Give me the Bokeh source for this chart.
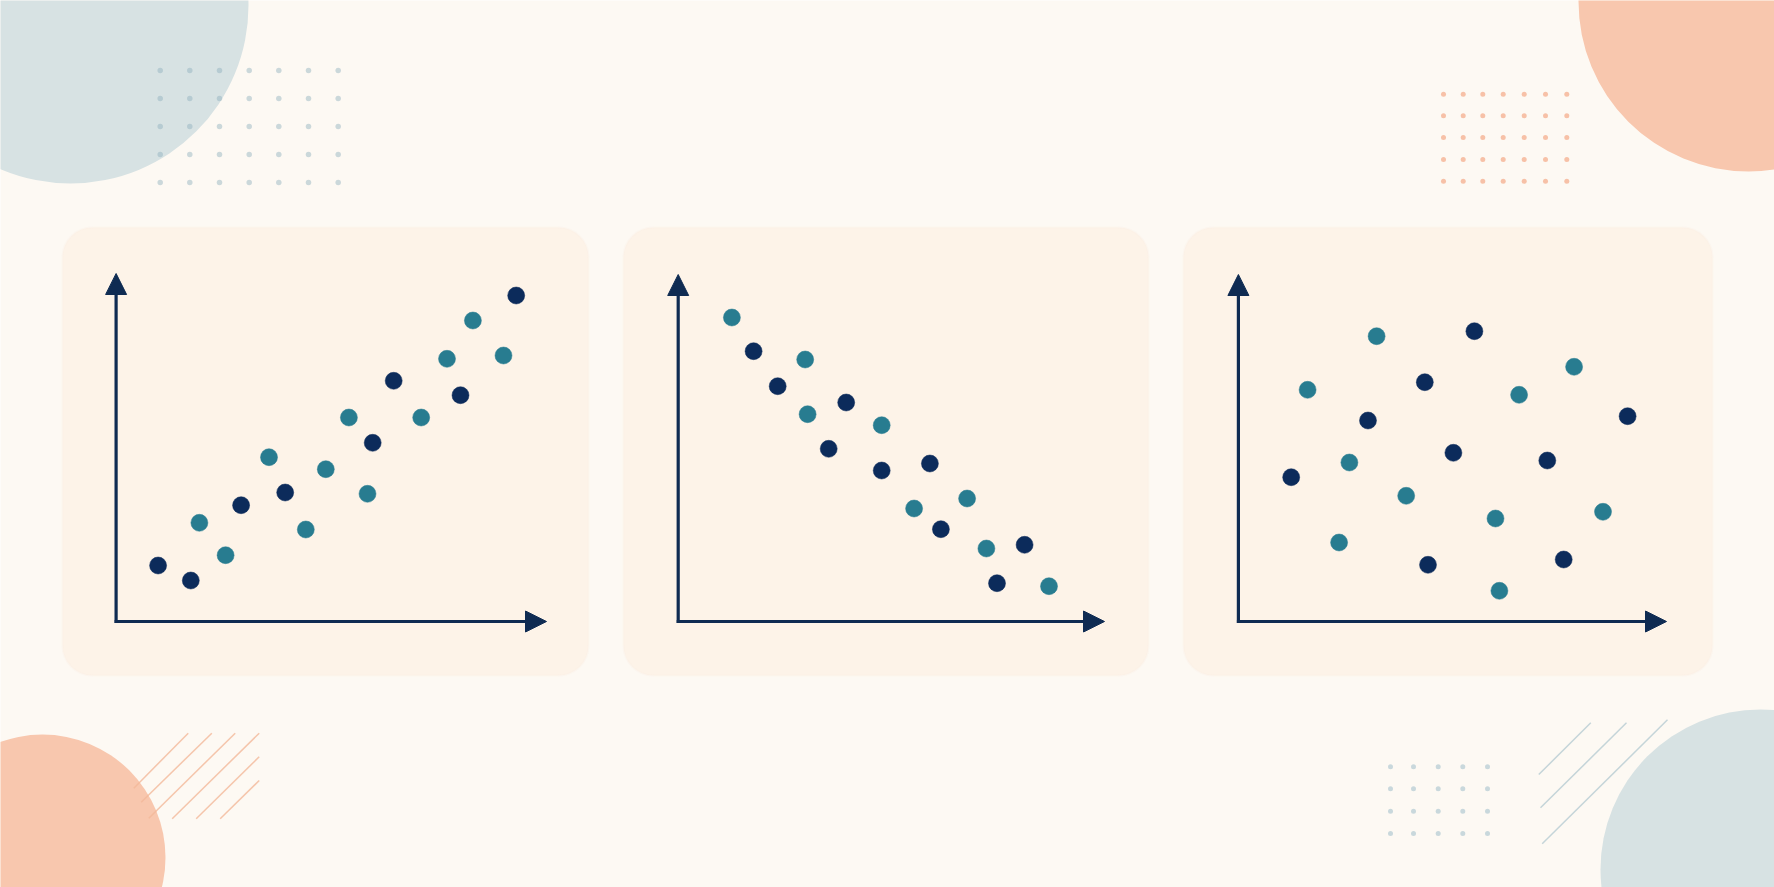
from bokeh.plotting import figure
from bokeh.models import Range1d, BoxAnnotation, Arrow, NormalHead
from bokeh.embed import file_html
from bokeh.resources import INLINE

W, H = 1774, 887

# ---------------- data (canvas units, y measured downward) ----------------
# Panel 1: positive correlation
p1_dark_x = [157.6, 190.3, 240.6, 284.7, 372.2, 393.2, 460.0, 515.7]
p1_dark_y = [565.0, 580.0, 504.7, 492.0, 442.3, 380.3, 394.7, 295.0]
p1_teal_x = [198.9, 225.1, 268.5, 305.3, 325.3, 348.4, 367.0, 420.7, 446.5, 472.4, 503.0]
p1_teal_y = [522.3, 554.7, 456.7, 529.0, 468.7, 417.0, 493.3, 417.0, 358.3, 320.0, 355.0]

# Panel 2: negative correlation
p2_dark_x = [753.1, 777.2, 845.7, 828.2, 881.2, 929.4, 940.4, 1024.1, 996.5]
p2_dark_y = [350.7, 385.7, 402.0, 448.3, 470.0, 463.0, 528.7, 544.3, 582.7]
p2_teal_x = [731.4, 804.7, 807.1, 881.2, 966.6, 913.6, 985.9, 1048.5]
p2_teal_y = [317.0, 359.0, 413.7, 424.7, 498.0, 508.0, 548.0, 585.7]

# Panel 3: no correlation
p3_dark_x = [1473.9, 1424.3, 1627.1, 1367.5, 1452.9, 1546.8, 1290.7, 1427.5, 1563.2]
p3_dark_y = [330.7, 381.7, 415.7, 420.0, 452.3, 460.0, 476.7, 564.3, 559.0]
p3_teal_x = [1376.1, 1573.6, 1307.1, 1518.6, 1348.9, 1405.7, 1495.0, 1602.5, 1338.6, 1498.9]
p3_teal_y = [335.7, 366.3, 389.3, 394.3, 462.0, 495.3, 518.0, 511.3, 542.0, 590.3]

# ---------------- layout / style ----------------
BG = "#fdf9f3"
PANEL = "#fdf3e8"
NAVY = "#0f2b52"
DARK = "#0c2b5b"
TEAL = "#287c90"
BLUEGRAY = "#d7e2e3"
PEACH = "#f8c7ae"

panels = [
    dict(l=62, r=588, t=227, b=675, ax=115.6, ay=621, ytip=273, xtip=546),
    dict(l=623, r=1148, t=227, b=675, ax=677.7, ay=621, ytip=274, xtip=1104),
    dict(l=1183, r=1712, t=227, b=675, ax=1237.9, ay=621, ytip=274, xtip=1666),
]

p = figure(width=W, height=H, x_range=Range1d(0, W), y_range=Range1d(H, 0),
           output_backend="svg", toolbar_location=None, min_border=0,
           background_fill_color=BG, border_fill_color=BG, outline_line_color=None)
p.axis.visible = False
p.grid.visible = False

# big corner circles
p.circle(x=[70], y=[5], radius=178, fill_color=BLUEGRAY, line_color=None)
p.circle(x=[1748], y=[1], radius=170, fill_color=PEACH, line_color=None)
p.circle(x=[42], y=[857], radius=123, fill_color=PEACH, line_color=None)
p.circle(x=[1760], y=[869], radius=160, fill_color=BLUEGRAY, line_color=None)

# dot grids
def grid(xs, ys):
    gx, gy = [], []
    for yy in ys:
        for xx in xs:
            gx.append(xx)
            gy.append(yy)
    return gx, gy

tl_cols = [159.7, 189.3, 219.0, 248.7, 278.3, 308.0, 337.7]
tl_rows = [70, 98, 126, 154, 182]
gx, gy = grid(tl_cols, tl_rows)
p.scatter(gx, gy, size=5.5, fill_color="#8fb0bc", fill_alpha=0.45, line_color=None)

tr_cols = [1443, 1462.7, 1482.3, 1502.7, 1523.7, 1545, 1566.3]
tr_rows = [93.7, 115.3, 137, 159, 180.7]
gx, gy = grid(tr_cols, tr_rows)
p.scatter(gx, gy, size=5, fill_color="#f7c1a7", line_color=None)

br_cols = [1390, 1413, 1437.7, 1462.3, 1487]
br_rows = [766.3, 788.3, 810.7, 833]
gx, gy = grid(br_cols, br_rows)
p.scatter(gx, gy, size=5, fill_color="#c9d8dc", line_color=None)

# hatching lines
bl_x0 = [133.3, 140.7, 148.3, 171.7, 195.7, 219.7]
bl_y0 = [787.7, 801.7, 817.7, 818.3, 818.3, 818.3]
bl_x1 = [187.7, 211.3, 234.7, 258.7, 258.7, 258.7]
bl_y1 = [732.7, 732.7, 732.7, 732.7, 756.3, 780.0]
p.segment(bl_x0, bl_y0, bl_x1, bl_y1, line_color="#f2b899", line_alpha=0.8, line_width=1.5)

br_x0 = [1538.3, 1540.0, 1541.7]
br_y0 = [774.0, 807.3, 843.3]
br_x1 = [1590.3, 1626.0, 1667.0]
br_y1 = [722.3, 722.3, 719.3]
p.segment(br_x0, br_y0, br_x1, br_y1, line_color="#c5d5d9", line_width=1.5)

# panels
for pn in panels:
    p.add_layout(BoxAnnotation(left=pn["l"], right=pn["r"], top=pn["t"], bottom=pn["b"],
                               fill_color=PANEL, fill_alpha=1.0,
                               line_color="#fbefe3", line_width=2, border_radius=30,
                               level="underlay"))
    head_y = NormalHead(size=21, fill_color=NAVY, line_color=NAVY, line_width=1)
    head_x = NormalHead(size=21, fill_color=NAVY, line_color=NAVY, line_width=1)
    p.add_layout(Arrow(end=head_y, x_start=pn["ax"], y_start=pn["ay"] + 1.5,
                       x_end=pn["ax"], y_end=pn["ytip"],
                       line_color=NAVY, line_width=3.2))
    p.add_layout(Arrow(end=head_x, x_start=pn["ax"] - 1.5, y_start=pn["ay"],
                       x_end=pn["xtip"], y_end=pn["ay"],
                       line_color=NAVY, line_width=3.2))

for dx, dy, tx, ty in [(p1_dark_x, p1_dark_y, p1_teal_x, p1_teal_y),
                       (p2_dark_x, p2_dark_y, p2_teal_x, p2_teal_y),
                       (p3_dark_x, p3_dark_y, p3_teal_x, p3_teal_y)]:
    p.scatter(tx, ty, size=17, fill_color=TEAL, line_color=TEAL, line_width=0.5)
    p.scatter(dx, dy, size=17, fill_color=DARK, line_color=DARK, line_width=0.5)

open("out.html", "w").write(file_html(p, INLINE))
